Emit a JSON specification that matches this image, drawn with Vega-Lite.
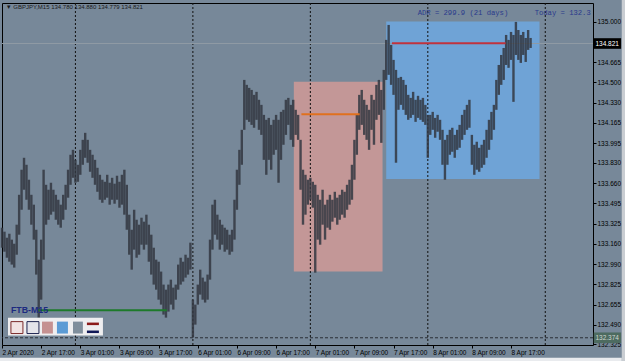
{
  "$schema": "https://vega.github.io/schema/vega-lite/v6.json",
  "autosize": {"type": "none"},
  "width": 591,
  "height": 342,
  "padding": {"left": 2, "top": 3, "right": 32, "bottom": 16},
  "background": "#778899",
  "config": {
    "view": {"fill": "#778899", "stroke": "#000000", "strokeWidth": 1},
    "font": "Liberation Sans",
    "axis": {"labelOverlap": false, "labelBound": false, "labelFlush": false, "grid": false, "domain": false, "title": null,
             "labelFontSize": 6.5, "labelColor": "#000000", "labelPadding": 1, "tickSize": 3, "tickColor": "#000000"}
  },
  "data": {"values": [{}]},
  "resolve": {"scale": {"color": "independent"}},
  "datasets": {
    "candles": [
      {"i":0,"hi":133.293,"lo":133.127},{"i":2,"hi":133.260,"lo":133.094},{"i":4,"hi":133.210,"lo":133.044},{"i":6,"hi":133.243,"lo":133.011},{"i":8,"hi":133.194,"lo":132.987},{"i":10,"hi":133.160,"lo":132.962},
      {"i":12,"hi":133.318,"lo":133.069},{"i":14,"hi":133.566,"lo":133.235},{"i":16,"hi":133.774,"lo":133.442},{"i":18,"hi":133.873,"lo":133.608},{"i":20,"hi":133.815,"lo":133.525},{"i":22,"hi":133.691,"lo":133.442},
      {"i":24,"hi":133.566,"lo":133.318},{"i":26,"hi":133.484,"lo":133.194},{"i":28,"hi":133.276,"lo":132.904},{"i":30,"hi":133.028,"lo":132.547},{"i":32,"hi":133.194,"lo":132.696},{"i":34,"hi":133.774,"lo":133.028},
      {"i":36,"hi":133.649,"lo":133.318},{"i":38,"hi":133.608,"lo":133.359},{"i":40,"hi":133.666,"lo":133.401},{"i":42,"hi":133.608,"lo":133.426},{"i":44,"hi":133.566,"lo":133.359},{"i":46,"hi":133.525,"lo":133.318},
      {"i":48,"hi":133.484,"lo":133.293},{"i":50,"hi":133.566,"lo":133.359},{"i":52,"hi":133.649,"lo":133.442},{"i":54,"hi":133.774,"lo":133.542},{"i":56,"hi":133.898,"lo":133.649},{"i":58,"hi":133.939,"lo":133.707},
      {"i":60,"hi":133.856,"lo":133.666},{"i":62,"hi":133.815,"lo":133.674},{"i":64,"hi":133.939,"lo":133.732},{"i":66,"hi":134.022,"lo":133.815},{"i":68,"hi":134.080,"lo":133.873},{"i":70,"hi":134.022,"lo":133.832},
      {"i":72,"hi":133.939,"lo":133.757},{"i":74,"hi":133.898,"lo":133.707},{"i":76,"hi":133.856,"lo":133.649},{"i":78,"hi":133.790,"lo":133.591},{"i":80,"hi":133.732,"lo":133.525},{"i":82,"hi":133.691,"lo":133.500},
      {"i":84,"hi":133.674,"lo":133.525},{"i":86,"hi":133.732,"lo":133.542},{"i":88,"hi":133.666,"lo":133.484},{"i":90,"hi":133.707,"lo":133.525},{"i":92,"hi":133.658,"lo":133.492},{"i":94,"hi":133.724,"lo":133.525},
      {"i":96,"hi":133.674,"lo":133.459},{"i":98,"hi":133.732,"lo":133.484},{"i":100,"hi":133.774,"lo":133.401},{"i":102,"hi":133.649,"lo":133.276},{"i":104,"hi":133.401,"lo":133.069},{"i":106,"hi":133.276,"lo":132.945},
      {"i":108,"hi":133.442,"lo":133.111},{"i":110,"hi":133.359,"lo":133.044},{"i":112,"hi":133.318,"lo":133.069},{"i":114,"hi":133.376,"lo":133.152},{"i":116,"hi":133.343,"lo":133.111},{"i":118,"hi":133.401,"lo":133.152},
      {"i":120,"hi":133.318,"lo":133.011},{"i":122,"hi":133.235,"lo":132.904},{"i":124,"hi":133.127,"lo":132.821},{"i":126,"hi":133.028,"lo":132.779},{"i":128,"hi":133.011,"lo":132.696},{"i":130,"hi":132.929,"lo":132.655},
      {"i":132,"hi":132.821,"lo":132.572},{"i":134,"hi":132.779,"lo":132.547},{"i":136,"hi":132.821,"lo":132.597},{"i":138,"hi":132.862,"lo":132.655},{"i":140,"hi":132.796,"lo":132.614},{"i":142,"hi":132.821,"lo":132.696},
      {"i":144,"hi":132.987,"lo":132.779},{"i":146,"hi":133.044,"lo":132.821},{"i":148,"hi":133.011,"lo":132.846},{"i":150,"hi":133.069,"lo":132.879},{"i":152,"hi":133.044,"lo":132.904},{"i":154,"hi":133.169,"lo":132.945},
      {"i":156,"hi":132.696,"lo":132.382},{"i":158,"hi":132.655,"lo":132.489},{"i":160,"hi":132.821,"lo":132.655},{"i":162,"hi":132.945,"lo":132.738},{"i":164,"hi":132.879,"lo":132.696},{"i":166,"hi":132.846,"lo":132.672},
      {"i":168,"hi":132.904,"lo":132.696},{"i":170,"hi":133.194,"lo":132.862},{"i":172,"hi":133.484,"lo":133.111},{"i":174,"hi":133.525,"lo":133.235},{"i":176,"hi":133.401,"lo":133.194},{"i":178,"hi":133.359,"lo":133.111},
      {"i":180,"hi":133.318,"lo":133.152},{"i":182,"hi":133.293,"lo":133.094},{"i":184,"hi":133.276,"lo":133.111},{"i":186,"hi":133.235,"lo":133.069},{"i":188,"hi":133.276,"lo":133.094},{"i":190,"hi":133.525,"lo":133.194},
      {"i":192,"hi":133.774,"lo":133.442},{"i":194,"hi":133.939,"lo":133.649},{"i":196,"hi":134.105,"lo":133.815},{"i":198,"hi":134.519,"lo":134.105},{"i":200,"hi":134.478,"lo":134.188},{"i":202,"hi":134.453,"lo":134.171},
      {"i":204,"hi":134.436,"lo":134.146},{"i":206,"hi":134.395,"lo":134.122},{"i":208,"hi":134.420,"lo":134.188},{"i":210,"hi":134.354,"lo":134.105},{"i":212,"hi":134.312,"lo":134.063},{"i":214,"hi":134.229,"lo":133.856},
      {"i":216,"hi":134.188,"lo":133.732},{"i":218,"hi":134.204,"lo":133.856},{"i":220,"hi":134.146,"lo":133.774},{"i":222,"hi":134.188,"lo":133.898},{"i":224,"hi":134.229,"lo":133.939},{"i":226,"hi":134.188,"lo":133.666},
      {"i":228,"hi":134.254,"lo":133.856},{"i":230,"hi":134.271,"lo":133.981},{"i":232,"hi":134.354,"lo":134.063},{"i":234,"hi":134.370,"lo":134.146},{"i":236,"hi":134.312,"lo":134.022},{"i":238,"hi":134.354,"lo":133.964},
      {"i":240,"hi":134.271,"lo":134.063},{"i":242,"hi":134.229,"lo":134.022},{"i":244,"hi":134.022,"lo":133.608},{"i":246,"hi":133.774,"lo":133.318},{"i":248,"hi":133.732,"lo":133.401},{"i":250,"hi":133.691,"lo":133.484},
      {"i":252,"hi":133.707,"lo":133.525},{"i":254,"hi":133.674,"lo":133.459},{"i":256,"hi":133.649,"lo":132.920},{"i":258,"hi":133.566,"lo":133.194},{"i":260,"hi":133.525,"lo":133.152},{"i":262,"hi":133.608,"lo":133.318},
      {"i":264,"hi":133.484,"lo":133.194},{"i":266,"hi":133.525,"lo":133.293},{"i":268,"hi":133.566,"lo":133.276},{"i":270,"hi":133.525,"lo":133.343},{"i":272,"hi":133.591,"lo":133.376},{"i":274,"hi":133.542,"lo":133.318},
      {"i":276,"hi":133.566,"lo":133.359},{"i":278,"hi":133.608,"lo":133.401},{"i":280,"hi":133.591,"lo":133.376},{"i":282,"hi":133.649,"lo":133.442},{"i":284,"hi":133.691,"lo":133.484},{"i":286,"hi":133.815,"lo":133.525},
      {"i":288,"hi":134.022,"lo":133.691},{"i":290,"hi":134.229,"lo":133.898},{"i":292,"hi":134.395,"lo":134.105},{"i":294,"hi":134.436,"lo":134.146},{"i":296,"hi":134.354,"lo":134.063},{"i":298,"hi":134.312,"lo":134.022},
      {"i":300,"hi":134.271,"lo":133.939},{"i":302,"hi":134.395,"lo":134.105},{"i":304,"hi":134.354,"lo":133.981},{"i":306,"hi":134.478,"lo":134.188},{"i":308,"hi":134.519,"lo":134.229},{"i":310,"hi":134.436,"lo":133.997},
      {"i":312,"hi":134.602,"lo":134.271},{"i":314,"hi":134.851,"lo":134.519},{"i":316,"hi":134.975,"lo":134.561},{"i":318,"hi":134.809,"lo":134.478},{"i":320,"hi":134.685,"lo":134.395},{"i":322,"hi":134.602,"lo":133.832},
      {"i":324,"hi":134.536,"lo":134.271},{"i":326,"hi":134.544,"lo":134.312},{"i":328,"hi":134.519,"lo":134.271},{"i":330,"hi":134.478,"lo":134.229},{"i":332,"hi":134.395,"lo":134.188},{"i":334,"hi":134.370,"lo":134.204},
      {"i":336,"hi":134.420,"lo":134.229},{"i":338,"hi":134.354,"lo":134.171},{"i":340,"hi":134.387,"lo":134.204},{"i":342,"hi":134.354,"lo":134.188},{"i":344,"hi":134.370,"lo":134.171},{"i":346,"hi":134.312,"lo":134.146},
      {"i":348,"hi":134.229,"lo":133.873},{"i":350,"hi":134.229,"lo":134.063},{"i":352,"hi":134.254,"lo":134.105},{"i":354,"hi":134.204,"lo":134.039},{"i":356,"hi":134.229,"lo":134.089},{"i":358,"hi":134.188,"lo":134.022},
      {"i":360,"hi":134.105,"lo":133.815},{"i":362,"hi":134.022,"lo":133.691},{"i":364,"hi":134.063,"lo":133.815},{"i":366,"hi":134.105,"lo":133.898},{"i":368,"hi":134.122,"lo":133.923},{"i":370,"hi":134.063,"lo":133.873},
      {"i":372,"hi":134.105,"lo":133.939},{"i":374,"hi":134.146,"lo":133.956},{"i":376,"hi":134.229,"lo":134.022},{"i":378,"hi":134.271,"lo":134.063},{"i":380,"hi":134.312,"lo":134.105},{"i":382,"hi":134.354,"lo":134.122},
      {"i":384,"hi":134.063,"lo":133.815},{"i":386,"hi":133.981,"lo":133.732},{"i":388,"hi":134.006,"lo":133.774},{"i":390,"hi":133.956,"lo":133.757},{"i":392,"hi":133.981,"lo":133.790},{"i":394,"hi":134.022,"lo":133.815},
      {"i":396,"hi":134.105,"lo":133.873},{"i":398,"hi":134.188,"lo":133.939},{"i":400,"hi":134.254,"lo":134.022},{"i":402,"hi":134.312,"lo":134.105},{"i":404,"hi":134.519,"lo":134.271},{"i":406,"hi":134.643,"lo":134.395},
      {"i":408,"hi":134.726,"lo":134.478},{"i":410,"hi":134.784,"lo":134.519},{"i":412,"hi":134.892,"lo":134.643},{"i":414,"hi":134.851,"lo":134.619},{"i":416,"hi":134.917,"lo":134.685},{"i":418,"hi":134.892,"lo":134.337},
      {"i":420,"hi":135.000,"lo":134.726},{"i":422,"hi":134.933,"lo":134.685},{"i":424,"hi":134.892,"lo":134.660},{"i":426,"hi":134.917,"lo":134.726},{"i":428,"hi":134.867,"lo":134.668},{"i":430,"hi":134.933,"lo":134.768},
      {"i":432,"hi":134.867,"lo":134.784}
    ],
    "boxes": [
      {"name": "prev", "x1": 238.5, "x2": 311, "top": 134.503, "bot": 132.929},
      {"name": "today", "x1": 314, "x2": 439.3, "top": 135.003, "bot": 133.697}
    ],
    "levels": [
      {"name": "orange", "x1": 244.7, "x2": 292.3, "p": 134.235},
      {"name": "red", "x1": 318.7, "x2": 411.6, "p": 134.823},
      {"name": "green", "x1": 30, "x2": 134.7, "p": 132.608}
    ],
    "days": [{"i": 60}, {"i": 156}, {"i": 252}, {"i": 348}, {"i": 444}]
  },
  "layer": [
    {
      "data": {"name": "boxes"},
      "mark": {"type": "rect"},
      "encoding": {
        "x": {"field": "x1", "type": "quantitative", "scale": {"domain": [0, 483], "nice": false, "zero": false},
              "axis": {"orient": "bottom", "values": [0,32,64,96,128,160,192,224,256,288,320,352,384,416], "tickCount": 30,
                       "labelExpr": "['2 Apr 2020','2 Apr 17:00','3 Apr 01:00','3 Apr 09:00','3 Apr 17:00','6 Apr 01:00','6 Apr 09:00','6 Apr 17:00','7 Apr 01:00','7 Apr 09:00','7 Apr 17:00','8 Apr 01:00','8 Apr 09:00','8 Apr 17:00'][round(datum.value/32)]",
                       "labelAlign": "left"}},
        "x2": {"field": "x2"},
        "y": {"field": "top", "type": "quantitative", "scale": {"domain": [132.32, 135.157], "nice": false, "zero": false},
              "axis": {"orient": "right", "values": [135.0,134.665,134.5,134.33,134.165,133.995,133.83,133.66,133.495,133.325,133.16,132.99,132.825,132.655,132.49,132.325],
                       "tickCount": 30, "format": ".3f"}},
        "y2": {"field": "bot"},
        "color": {"field": "name", "type": "nominal", "scale": {"domain": ["prev", "today"], "range": ["#c39797", "#6fa3d6"]}, "legend": null}
      }
    },
    {
      "data": {"name": "days"},
      "mark": {"type": "rule", "color": "#111111", "strokeDash": [2, 2], "strokeWidth": 1},
      "encoding": {"x": {"field": "i", "type": "quantitative", "axis": {"orient": "bottom"}}}
    },
    {
      "mark": {"type": "rule", "color": "#8f9aa4", "strokeWidth": 1},
      "encoding": {"y": {"datum": 134.821, "axis": {"orient": "right"}}}
    },
    {
      "mark": {"type": "rule", "color": "#2a2f36", "strokeDash": [3, 2], "strokeWidth": 1},
      "encoding": {"y": {"datum": 132.38, "axis": {"orient": "right"}}}
    },
    {
      "data": {"name": "candles"},
      "mark": {"type": "rule", "color": "#323741", "strokeWidth": 2.4, "opacity": 0.85},
      "encoding": {
        "x": {"field": "i", "type": "quantitative", "axis": {"orient": "bottom"}},
        "y": {"field": "hi", "type": "quantitative", "axis": {"orient": "right"}},
        "y2": {"field": "lo"}
      }
    },
    {
      "data": {"name": "levels"},
      "mark": {"type": "rule", "strokeWidth": 2},
      "encoding": {
        "x": {"field": "x1", "type": "quantitative", "axis": {"orient": "bottom"}},
        "x2": {"field": "x2"},
        "y": {"field": "p", "type": "quantitative", "axis": {"orient": "right"}},
        "color": {"field": "name", "type": "nominal", "scale": {"domain": ["orange", "red", "green"], "range": ["#e0701e", "#c0323c", "#1d7a2a"]}, "legend": null}
      }
    },
    {
      "mark": {"type": "text", "align": "left", "baseline": "middle", "fontSize": 6, "color": "#1a1a1a"},
      "encoding": {"x": {"datum": 3, "axis": {"orient": "bottom"}}, "y": {"datum": 135.124, "axis": {"orient": "right"}}, "text": {"value": "▼ GBPJPY,M15  134.780 134.880 134.779 134.821"}}
    },
    {
      "mark": {"type": "text", "align": "left", "baseline": "middle", "fontSize": 7.2, "font": "Liberation Mono", "color": "#2a3a8c"},
      "encoding": {"x": {"datum": 339.7, "axis": {"orient": "bottom"}}, "y": {"datum": 135.074, "axis": {"orient": "right"}}, "text": {"value": "ADR = 299.9  (21 days)"}}
    },
    {
      "mark": {"type": "text", "align": "left", "baseline": "middle", "fontSize": 7.2, "font": "Liberation Mono", "color": "#2a3a8c"},
      "encoding": {"x": {"datum": 435.3, "axis": {"orient": "bottom"}}, "y": {"datum": 135.074, "axis": {"orient": "right"}}, "text": {"value": "Today = 132.3"}}
    },
    {
      "mark": {"type": "rect", "fill": "#000000"},
      "encoding": {"x": {"datum": 483.6, "axis": {"orient": "bottom"}}, "x2": {"datum": 506}, "y": {"datum": 134.865, "axis": {"orient": "right"}}, "y2": {"datum": 134.777}}
    },
    {
      "mark": {"type": "text", "align": "left", "baseline": "middle", "fontSize": 6.5, "color": "#ffffff"},
      "encoding": {"x": {"datum": 485, "axis": {"orient": "bottom"}}, "y": {"datum": 134.821, "axis": {"orient": "right"}}, "text": {"value": "134.821"}}
    },
    {
      "mark": {"type": "rect", "fill": "#4d6b60"},
      "encoding": {"x": {"datum": 483.6, "axis": {"orient": "bottom"}}, "x2": {"datum": 506}, "y": {"datum": 132.424, "axis": {"orient": "right"}}, "y2": {"datum": 132.336}}
    },
    {
      "mark": {"type": "text", "align": "left", "baseline": "middle", "fontSize": 6.5, "color": "#d0d8d0"},
      "encoding": {"x": {"datum": 485, "axis": {"orient": "bottom"}}, "y": {"datum": 132.38, "axis": {"orient": "right"}}, "text": {"value": "132.374"}}
    },
    {
      "mark": {"type": "rect", "fill": "#eeeef0"},
      "encoding": {"x": {"datum": 4.9, "axis": {"orient": "bottom"}}, "x2": {"datum": 82.5}, "y": {"datum": 132.547, "axis": {"orient": "right"}}, "y2": {"datum": 132.398}}
    },
    {
      "mark": {"type": "rect", "fill": "#f1e3e3", "stroke": "#7a2a2a", "strokeWidth": 1},
      "encoding": {"x": {"datum": 7.3, "axis": {"orient": "bottom"}}, "x2": {"datum": 17.1}, "y": {"datum": 132.514, "axis": {"orient": "right"}}, "y2": {"datum": 132.415}}
    },
    {
      "mark": {"type": "rect", "fill": "#e4e4ea", "stroke": "#1e2450", "strokeWidth": 1},
      "encoding": {"x": {"datum": 20.4, "axis": {"orient": "bottom"}}, "x2": {"datum": 30.2}, "y": {"datum": 132.514, "axis": {"orient": "right"}}, "y2": {"datum": 132.415}}
    },
    {
      "mark": {"type": "rect", "fill": "#c59191"},
      "encoding": {"x": {"datum": 32.7, "axis": {"orient": "bottom"}}, "x2": {"datum": 41.6}, "y": {"datum": 132.514, "axis": {"orient": "right"}}, "y2": {"datum": 132.415}}
    },
    {
      "mark": {"type": "rect", "fill": "#5b9bd5"},
      "encoding": {"x": {"datum": 44.9, "axis": {"orient": "bottom"}}, "x2": {"datum": 53.9}, "y": {"datum": 132.514, "axis": {"orient": "right"}}, "y2": {"datum": 132.415}}
    },
    {
      "mark": {"type": "rect", "fill": "#7f8e9c"},
      "encoding": {"x": {"datum": 58.0, "axis": {"orient": "bottom"}}, "x2": {"datum": 66.1}, "y": {"datum": 132.514, "axis": {"orient": "right"}}, "y2": {"datum": 132.415}}
    },
    {
      "mark": {"type": "rect", "fill": "#8b1a1a"},
      "encoding": {"x": {"datum": 69.4, "axis": {"orient": "bottom"}}, "x2": {"datum": 79.2}, "y": {"datum": 132.506, "axis": {"orient": "right"}}, "y2": {"datum": 132.485}}
    },
    {
      "mark": {"type": "rect", "fill": "#101858"},
      "encoding": {"x": {"datum": 69.4, "axis": {"orient": "bottom"}}, "x2": {"datum": 79.2}, "y": {"datum": 132.440, "axis": {"orient": "right"}}, "y2": {"datum": 132.419}}
    },
    {
      "mark": {"type": "text", "align": "left", "baseline": "middle", "fontSize": 8.8, "fontWeight": "bold", "color": "#1c2a80"},
      "encoding": {"x": {"datum": 7.3, "axis": {"orient": "bottom"}}, "y": {"datum": 132.614, "axis": {"orient": "right"}}, "text": {"value": "FTB-M15"}}
    },
    {
      "mark": {"type": "rect", "fill": "#c9cdd2"},
      "encoding": {"x": {"datum": 506.5, "axis": {"orient": "bottom"}}, "x2": {"datum": 512}, "y": {"datum": 135.25, "axis": {"orient": "right"}}, "y2": {"datum": 132.15}}
    },
    {
      "mark": {"type": "rect", "fill": "#e9ebee"},
      "encoding": {"x": {"datum": -5, "axis": {"orient": "bottom"}}, "x2": {"datum": 506.5}, "y": {"datum": 132.214, "axis": {"orient": "right"}}, "y2": {"datum": 132.15}}
    }
  ]
}
